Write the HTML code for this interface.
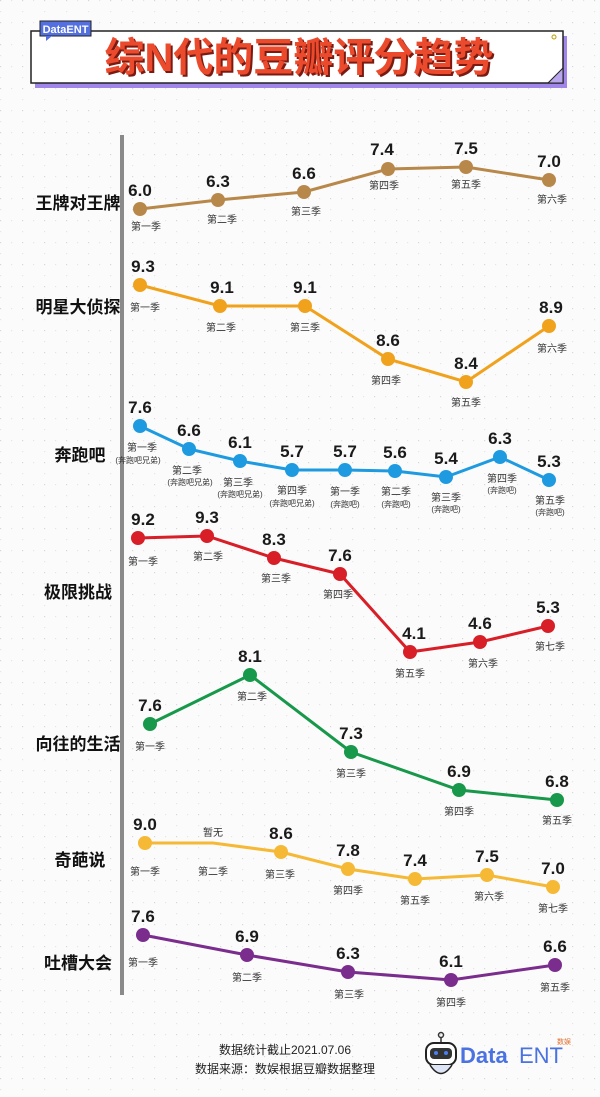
<!DOCTYPE html>
<html><head><meta charset="utf-8"><style>
html,body{margin:0;padding:0;background:#fbfbfb;}
svg{display:block;font-family:"Liberation Sans","Noto Sans CJK SC",sans-serif;}
.v{font-size:17px;font-weight:bold;fill:#1a1a1a;text-anchor:middle;}
.s{font-size:10px;fill:#333;text-anchor:middle;}
.t{font-size:8px;fill:#333;text-anchor:middle;}
.r{font-size:17px;font-weight:bold;fill:#111;text-anchor:middle;}
</style></head><body>
<svg width="600" height="1097" viewBox="0 0 600 1097">
<defs><pattern id="g" width="22" height="22" patternUnits="userSpaceOnUse"><rect x="0" y="0" width="1.2" height="1.2" fill="#d8d8d8"/><rect x="11" y="0" width="1.2" height="1.2" fill="#e6e6e6"/><rect x="0" y="11" width="1.2" height="1.2" fill="#e6e6e6"/></pattern></defs>
<rect width="600" height="1097" fill="#fbfbfb"/>
<rect width="600" height="1097" fill="url(#g)"/>
<!-- title -->
<rect x="35" y="36" width="532" height="52" fill="#9f86e8"/>
<rect x="31" y="31" width="532" height="52" fill="#fff" stroke="#222" stroke-width="1.5"/>
<path d="M548 83 L563 68 L563 83 Z" fill="#b9a6ef" stroke="#222" stroke-width="1"/>
<circle cx="554" cy="37" r="2" fill="none" stroke="#b9a000" stroke-width="1"/>
<rect x="40" y="21" width="51" height="15" fill="#5470e0" stroke="#222" stroke-width="1"/>
<path d="M46 36 L52 36 L46 41Z" fill="#5470e0"/>
<text x="65.5" y="33" style="font-size:11px;font-weight:bold;fill:#fff;text-anchor:middle">DataENT</text>
<text x="301" y="73" style="font-size:40px;font-weight:bold;fill:#7a1a10;text-anchor:middle">综N代的豆瓣评分趋势</text>
<text x="299" y="71" style="font-size:40px;font-weight:bold;fill:#ec4a2c;text-anchor:middle">综N代的豆瓣评分趋势</text>
<!-- axis -->
<line x1="122" y1="135" x2="122" y2="995" stroke="#8a8a8a" stroke-width="4"/>
<!-- row labels -->
<text class="r" x="78" y="209">王牌对王牌</text>
<text class="r" x="78" y="313">明星大侦探</text>
<text class="r" x="80" y="461">奔跑吧</text>
<text class="r" x="78" y="598">极限挑战</text>
<text class="r" x="78" y="750">向往的生活</text>
<text class="r" x="80" y="866">奇葩说</text>
<text class="r" x="78" y="969">吐槽大会</text>

<!-- 1 brown -->
<g fill="#b8884a"><polyline points="140,209 218,200 304,192 388,169 466,167 549,180" fill="none" stroke="#b8884a" stroke-width="3"/>
<circle cx="140" cy="209" r="7"/><circle cx="218" cy="200" r="7"/><circle cx="304" cy="192" r="7"/><circle cx="388" cy="169" r="7"/><circle cx="466" cy="167" r="7"/><circle cx="549" cy="180" r="7"/></g>
<text class="v" x="140" y="196">6.0</text><text class="v" x="218" y="187">6.3</text><text class="v" x="304" y="179">6.6</text><text class="v" x="382" y="155">7.4</text><text class="v" x="466" y="154">7.5</text><text class="v" x="549" y="167">7.0</text>
<text class="s" x="146" y="230">第一季</text><text class="s" x="222" y="223">第二季</text><text class="s" x="306" y="215">第三季</text><text class="s" x="384" y="189">第四季</text><text class="s" x="466" y="188">第五季</text><text class="s" x="552" y="203">第六季</text>

<!-- 2 orange -->
<g fill="#f0a21c"><polyline points="140,285 220,306 305,306 388,359 466,382 549,326" fill="none" stroke="#f0a21c" stroke-width="3"/>
<circle cx="140" cy="285" r="7"/><circle cx="220" cy="306" r="7"/><circle cx="305" cy="306" r="7"/><circle cx="388" cy="359" r="7"/><circle cx="466" cy="382" r="7"/><circle cx="549" cy="326" r="7"/></g>
<text class="v" x="143" y="272">9.3</text><text class="v" x="222" y="293">9.1</text><text class="v" x="305" y="293">9.1</text><text class="v" x="388" y="346">8.6</text><text class="v" x="466" y="369">8.4</text><text class="v" x="551" y="313">8.9</text>
<text class="s" x="145" y="311">第一季</text><text class="s" x="221" y="331">第二季</text><text class="s" x="305" y="331">第三季</text><text class="s" x="386" y="384">第四季</text><text class="s" x="466" y="406">第五季</text><text class="s" x="552" y="352">第六季</text>

<!-- 3 blue -->
<g fill="#1e9be0"><polyline points="140,426 189,449 240,461 292,470 345,470 395,471 446,477 500,457 549,480" fill="none" stroke="#1e9be0" stroke-width="3"/>
<circle cx="140" cy="426" r="7"/><circle cx="189" cy="449" r="7"/><circle cx="240" cy="461" r="7"/><circle cx="292" cy="470" r="7"/><circle cx="345" cy="470" r="7"/><circle cx="395" cy="471" r="7"/><circle cx="446" cy="477" r="7"/><circle cx="500" cy="457" r="7"/><circle cx="549" cy="480" r="7"/></g>
<text class="v" x="140" y="413">7.6</text><text class="v" x="189" y="436">6.6</text><text class="v" x="240" y="448">6.1</text><text class="v" x="292" y="457">5.7</text><text class="v" x="345" y="457">5.7</text><text class="v" x="395" y="458">5.6</text><text class="v" x="446" y="464">5.4</text><text class="v" x="500" y="444">6.3</text><text class="v" x="549" y="467">5.3</text>
<text class="s" x="142" y="451">第一季</text><text class="t" x="138" y="463">(奔跑吧兄弟)</text>
<text class="s" x="187" y="474">第二季</text><text class="t" x="190" y="485">(奔跑吧兄弟)</text>
<text class="s" x="238" y="486">第三季</text><text class="t" x="240" y="497">(奔跑吧兄弟)</text>
<text class="s" x="292" y="494">第四季</text><text class="t" x="292" y="506">(奔跑吧兄弟)</text>
<text class="s" x="345" y="495">第一季</text><text class="t" x="345" y="507">(奔跑吧)</text>
<text class="s" x="396" y="495">第二季</text><text class="t" x="396" y="507">(奔跑吧)</text>
<text class="s" x="446" y="501">第三季</text><text class="t" x="446" y="512">(奔跑吧)</text>
<text class="s" x="502" y="482">第四季</text><text class="t" x="502" y="493">(奔跑吧)</text>
<text class="s" x="550" y="504">第五季</text><text class="t" x="550" y="515">(奔跑吧)</text>

<!-- 4 red -->
<g fill="#d81e27"><polyline points="138,538 207,536 274,558 340,574 410,652 480,642 548,626" fill="none" stroke="#d81e27" stroke-width="3"/>
<circle cx="138" cy="538" r="7"/><circle cx="207" cy="536" r="7"/><circle cx="274" cy="558" r="7"/><circle cx="340" cy="574" r="7"/><circle cx="410" cy="652" r="7"/><circle cx="480" cy="642" r="7"/><circle cx="548" cy="626" r="7"/></g>
<text class="v" x="143" y="525">9.2</text><text class="v" x="207" y="523">9.3</text><text class="v" x="274" y="545">8.3</text><text class="v" x="340" y="561">7.6</text><text class="v" x="414" y="639">4.1</text><text class="v" x="480" y="629">4.6</text><text class="v" x="548" y="613">5.3</text>
<text class="s" x="143" y="565">第一季</text><text class="s" x="208" y="560">第二季</text><text class="s" x="276" y="582">第三季</text><text class="s" x="338" y="598">第四季</text><text class="s" x="410" y="677">第五季</text><text class="s" x="483" y="667">第六季</text><text class="s" x="550" y="650">第七季</text>

<!-- 5 green -->
<g fill="#17984a"><polyline points="150,724 250,675 351,752 459,790 557,800" fill="none" stroke="#17984a" stroke-width="3"/>
<circle cx="150" cy="724" r="7"/><circle cx="250" cy="675" r="7"/><circle cx="351" cy="752" r="7"/><circle cx="459" cy="790" r="7"/><circle cx="557" cy="800" r="7"/></g>
<text class="v" x="150" y="711">7.6</text><text class="v" x="250" y="662">8.1</text><text class="v" x="351" y="739">7.3</text><text class="v" x="459" y="777">6.9</text><text class="v" x="557" y="787">6.8</text>
<text class="s" x="150" y="750">第一季</text><text class="s" x="252" y="700">第二季</text><text class="s" x="351" y="777">第三季</text><text class="s" x="459" y="815">第四季</text><text class="s" x="557" y="824">第五季</text>

<!-- 6 yellow -->
<g fill="#f5b935"><polyline points="145,843 213,843 281,852 348,869 415,879 487,875 553,887" fill="none" stroke="#f5b935" stroke-width="3"/>
<circle cx="145" cy="843" r="7"/><circle cx="281" cy="852" r="7"/><circle cx="348" cy="869" r="7"/><circle cx="415" cy="879" r="7"/><circle cx="487" cy="875" r="7"/><circle cx="553" cy="887" r="7"/></g>
<text class="v" x="145" y="830">9.0</text><text class="s" x="213" y="836">暂无</text><text class="v" x="281" y="839">8.6</text><text class="v" x="348" y="856">7.8</text><text class="v" x="415" y="866">7.4</text><text class="v" x="487" y="862">7.5</text><text class="v" x="553" y="874">7.0</text>
<text class="s" x="145" y="875">第一季</text><text class="s" x="213" y="875">第二季</text><text class="s" x="280" y="878">第三季</text><text class="s" x="348" y="894">第四季</text><text class="s" x="415" y="904">第五季</text><text class="s" x="489" y="900">第六季</text><text class="s" x="553" y="912">第七季</text>

<!-- 7 purple -->
<g fill="#7b2d8e"><polyline points="143,935 247,955 348,972 451,980 555,965" fill="none" stroke="#7b2d8e" stroke-width="3"/>
<circle cx="143" cy="935" r="7"/><circle cx="247" cy="955" r="7"/><circle cx="348" cy="972" r="7"/><circle cx="451" cy="980" r="7"/><circle cx="555" cy="965" r="7"/></g>
<text class="v" x="143" y="922">7.6</text><text class="v" x="247" y="942">6.9</text><text class="v" x="348" y="959">6.3</text><text class="v" x="451" y="967">6.1</text><text class="v" x="555" y="952">6.6</text>
<text class="s" x="143" y="966">第一季</text><text class="s" x="247" y="981">第二季</text><text class="s" x="349" y="998">第三季</text><text class="s" x="451" y="1006">第四季</text><text class="s" x="555" y="991">第五季</text>

<!-- footer -->
<text x="285" y="1054" style="font-size:12px;fill:#222;text-anchor:middle">数据统计截止2021.07.06</text>
<text x="285" y="1073" style="font-size:12px;fill:#222;text-anchor:middle">数据来源：数娱根据豆瓣数据整理</text>
<g>
<circle cx="441" cy="1035" r="2.5" fill="none" stroke="#333" stroke-width="1.5"/>
<line x1="441" y1="1037" x2="441" y2="1043" stroke="#333" stroke-width="1.5"/>
<rect x="426" y="1043" width="30" height="22" rx="8" fill="#fff" stroke="#222" stroke-width="2"/>
<rect x="430" y="1048" width="22" height="11" rx="4" fill="#333"/>
<circle cx="436" cy="1053" r="2" fill="#4a7ff0"/><circle cx="446" cy="1053" r="2" fill="#4a7ff0"/>
<path d="M430 1065 Q441 1082 452 1065" fill="#dde4f5" stroke="#222" stroke-width="1.5"/>
<text x="460" y="1063" style="font-size:22px;font-weight:bold;fill:#4a72e0">Data</text>
<text x="519" y="1063" style="font-size:22px;fill:#4a72e0">ENT</text>
<text x="557" y="1044" style="font-size:7px;fill:#e07030">数娱</text>
</g>
</svg>
</body></html>
